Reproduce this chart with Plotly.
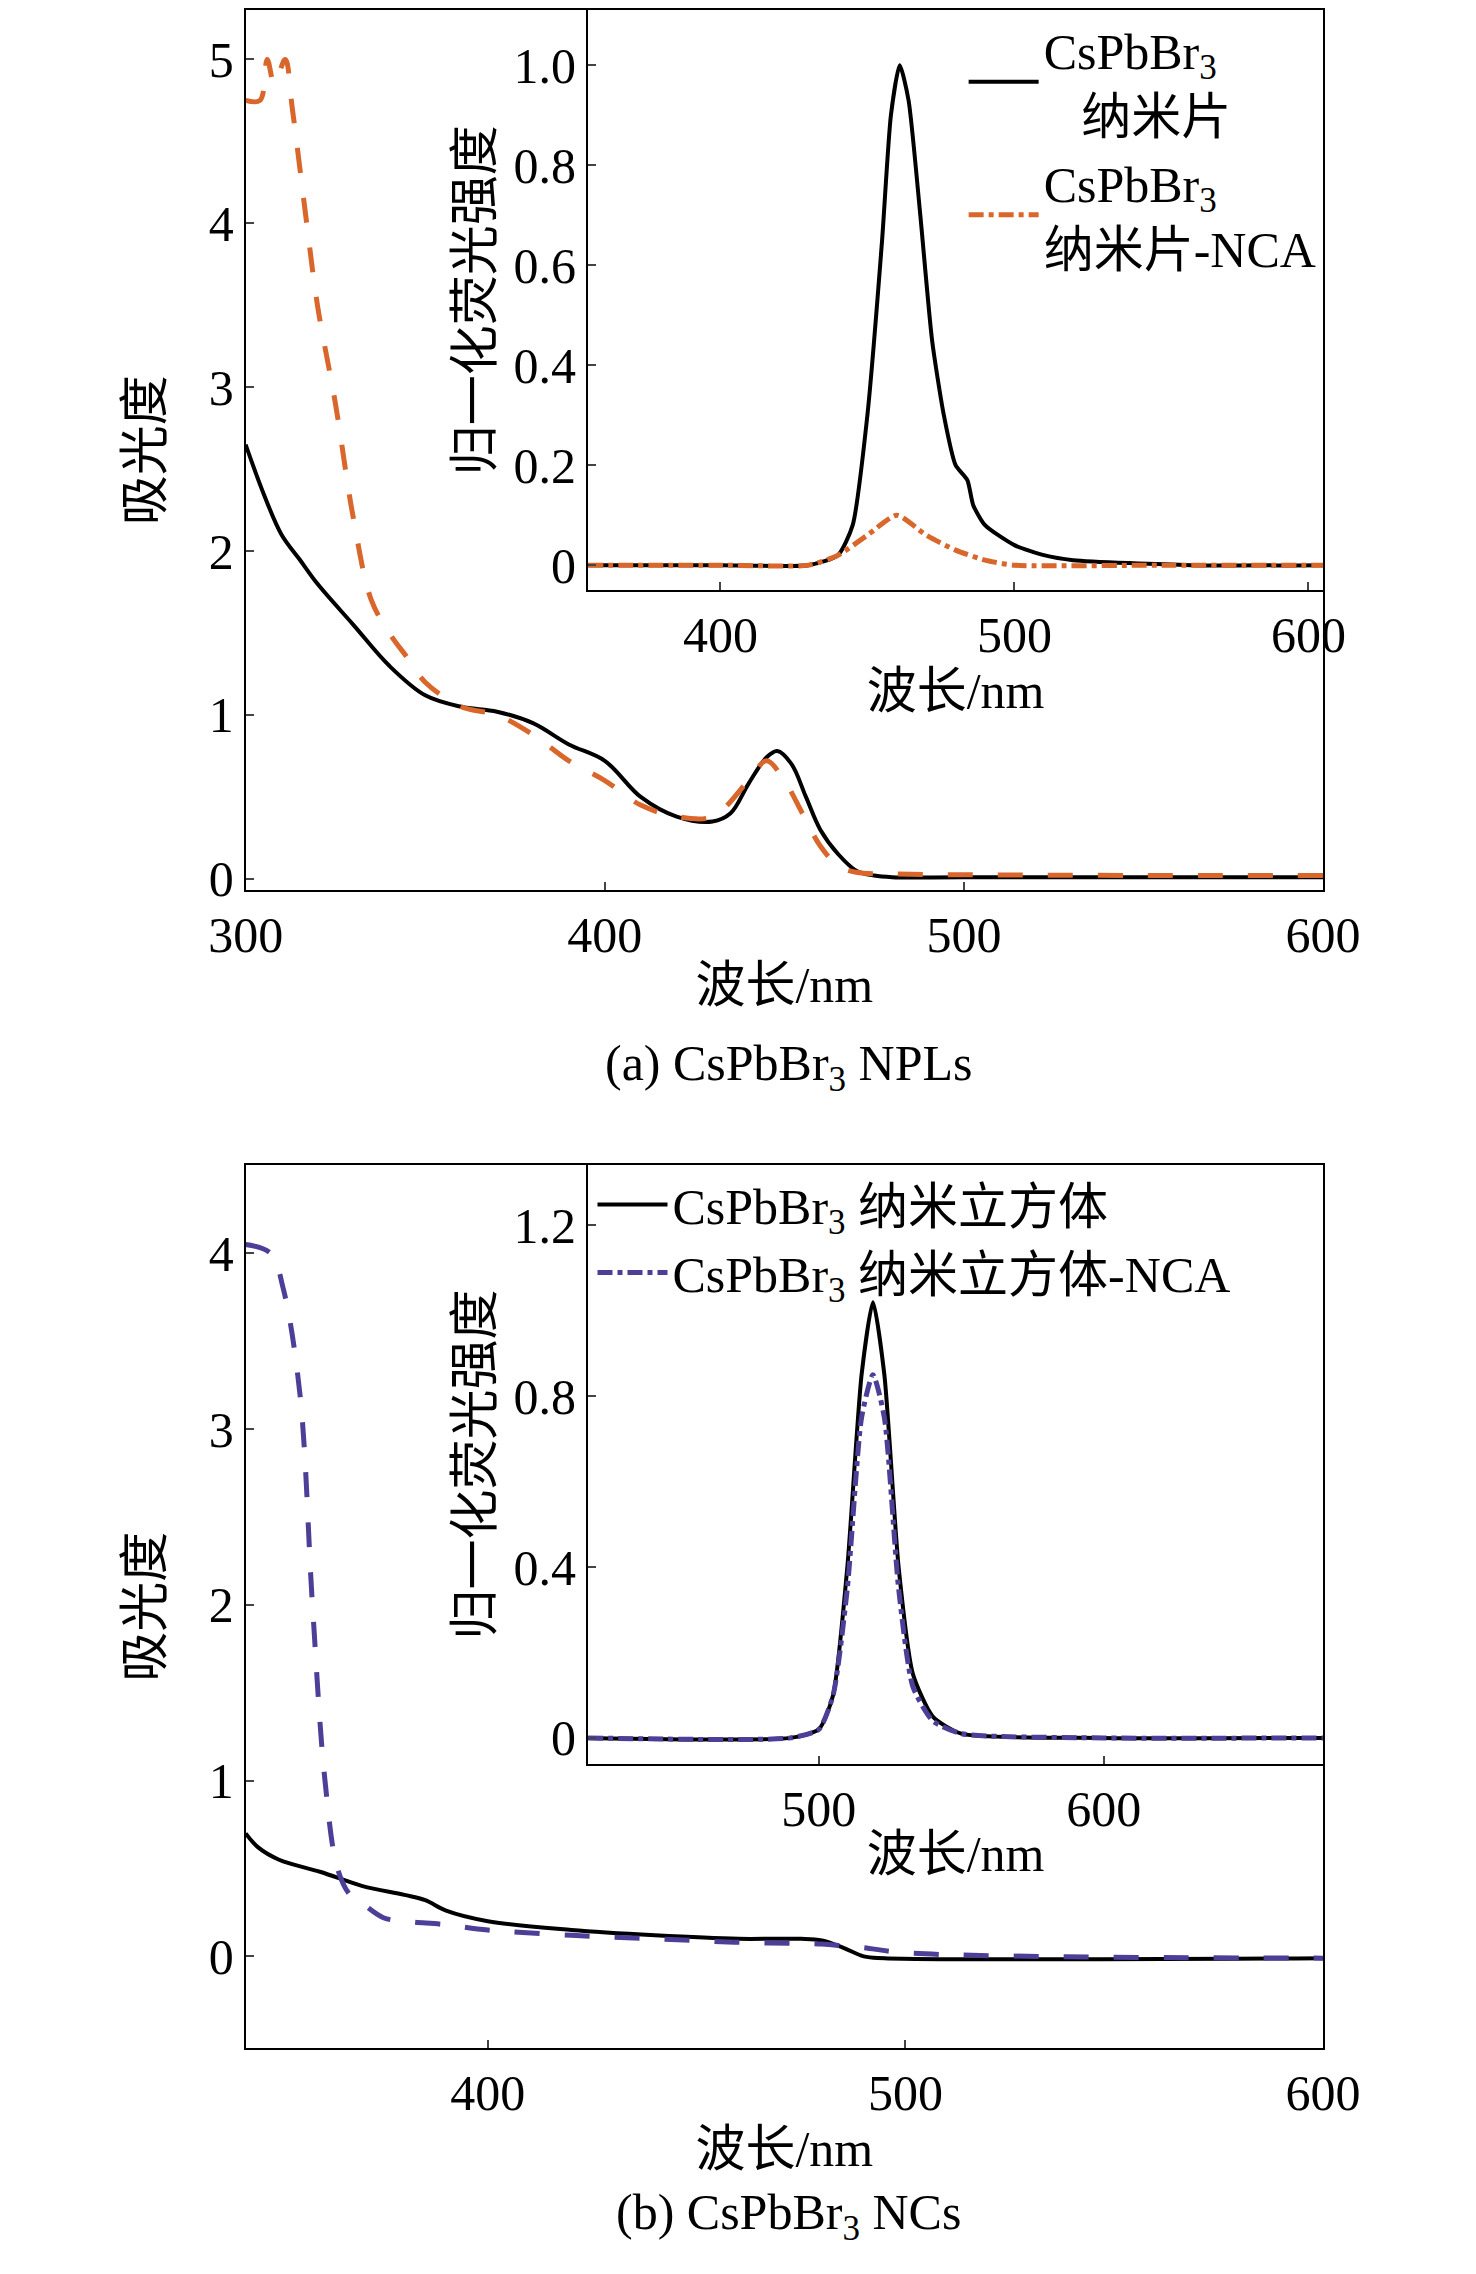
import plotly.graph_objs as go

# panel (a) absorption
a_x = [300, 305, 310, 315, 320, 330, 340, 350, 360, 370, 380, 390, 400, 410, 420, 430, 435, 440, 445, 448, 452, 456, 460, 465, 470, 475, 480, 500, 600]
a_black = [2.65, 2.35, 2.1, 1.95, 1.8, 1.55, 1.3, 1.12, 1.05, 1.02, 0.95, 0.82, 0.72, 0.5, 0.38, 0.35, 0.4, 0.58, 0.74, 0.78, 0.7, 0.5, 0.3, 0.15, 0.05, 0.02, 0.01, 0.01, 0.01]
a_ox = [300, 304, 306, 308, 311, 313, 317, 320, 325, 330, 335, 340, 345, 350, 360, 370, 380, 390, 400, 410, 420, 430, 440, 445, 450, 455, 460, 465, 470, 480, 600]
a_orange = [4.75, 4.75, 5.0, 4.85, 5.0, 4.7, 4.0, 3.5, 2.9, 2.2, 1.7, 1.5, 1.35, 1.2, 1.05, 1.0, 0.88, 0.72, 0.6, 0.45, 0.38, 0.38, 0.6, 0.72, 0.6, 0.4, 0.2, 0.08, 0.04, 0.03, 0.02]

# panel (a) inset PL
ai_x = [355, 400, 430, 440, 445, 450, 455, 458, 461, 464, 468, 472, 476, 480, 484, 486, 490, 500, 510, 520, 560, 605]
ai_black = [0, 0, 0, 0.02, 0.08, 0.3, 0.65, 0.9, 1.0, 0.93, 0.7, 0.45, 0.3, 0.2, 0.17, 0.12, 0.08, 0.04, 0.02, 0.01, 0, 0]
ai_ox = [355, 400, 430, 440, 450, 460, 470, 480, 490, 500, 550, 605]
ai_orange = [0, 0, 0, 0.02, 0.06, 0.1, 0.06, 0.03, 0.01, 0, 0, 0]

# panel (b) absorption
b_x = [342, 345, 350, 360, 370, 380, 385, 390, 400, 420, 440, 460, 475, 480, 485, 490, 495, 600]
b_black = [0.7, 0.62, 0.55, 0.48, 0.4, 0.35, 0.32, 0.26, 0.2, 0.15, 0.12, 0.1, 0.1, 0.09, 0.05, 0.0, -0.01, -0.01]
b_px = [342, 348, 351, 355, 358, 361, 364, 367, 370, 375, 380, 390, 400, 420, 440, 460, 480, 485, 490, 500, 600]
b_purple = [4.05, 4.0, 3.8, 3.2, 2.0, 1.0, 0.5, 0.35, 0.3, 0.22, 0.2, 0.18, 0.15, 0.12, 0.1, 0.08, 0.07, 0.06, 0.05, 0.02, -0.01]

# panel (b) inset PL
bi_x = [419, 490, 500, 505, 510, 515, 519, 523, 528, 533, 540, 550, 600, 677]
bi_black = [0, 0, 0.02, 0.1, 0.4, 0.85, 1.02, 0.85, 0.4, 0.15, 0.05, 0.01, 0, 0]
bi_purple = [0, 0, 0.02, 0.1, 0.35, 0.75, 0.85, 0.75, 0.35, 0.12, 0.04, 0.01, 0, 0]

ORANGE = "#d9662a"
PURPLE = "#4b3f98"
FONT = "Liberation Serif, Noto Sans CJK SC"
FS = 50

fig = go.Figure()
fig.add_trace(go.Scatter(x=a_x, y=a_black, mode="lines", line=dict(color="black", width=4, shape="spline"), showlegend=False))
fig.add_trace(go.Scatter(x=a_ox, y=a_orange, mode="lines", line=dict(color=ORANGE, width=5, dash="longdash", shape="spline"), showlegend=False))
fig.add_trace(go.Scatter(x=ai_x, y=ai_black, mode="lines", xaxis="x2", yaxis="y2",
                         line=dict(color="black", width=4, shape="spline", smoothing=0.6), name="CsPbBr<sub>3</sub><br>   纳米片", legend="legend"))
fig.add_trace(go.Scatter(x=ai_ox, y=ai_orange, mode="lines", xaxis="x2", yaxis="y2",
                         line=dict(color=ORANGE, width=5, dash="dashdot", shape="spline", smoothing=0.6), name="CsPbBr<sub>3</sub><br>纳米片-NCA", legend="legend"))
fig.add_trace(go.Scatter(x=b_x, y=b_black, mode="lines", xaxis="x3", yaxis="y3", line=dict(color="black", width=4, shape="spline"), showlegend=False))
fig.add_trace(go.Scatter(x=b_px, y=b_purple, mode="lines", xaxis="x3", yaxis="y3", line=dict(color=PURPLE, width=5, dash="longdash", shape="spline"), showlegend=False))
fig.add_trace(go.Scatter(x=bi_x, y=bi_black, mode="lines", xaxis="x4", yaxis="y4",
                         line=dict(color="black", width=4, shape="spline", smoothing=0.6), name="CsPbBr<sub>3</sub> 纳米立方体", legend="legend2"))
fig.add_trace(go.Scatter(x=bi_x, y=bi_purple, mode="lines", xaxis="x4", yaxis="y4",
                         line=dict(color=PURPLE, width=5, dash="dashdot", shape="spline", smoothing=0.6), name="CsPbBr<sub>3</sub> 纳米立方体-NCA", legend="legend2"))

ax = dict(showline=True, linecolor="black", linewidth=2, mirror=True, ticks="inside", ticklen=8,
          tickwidth=2, showgrid=False, zeroline=False, automargin=False, tickfont=dict(size=FS, family=FONT))
tit = dict(size=FS, family=FONT)

fig.update_layout(
    width=1476, height=2274, margin=dict(l=0, r=0, t=0, b=0),
    plot_bgcolor="white", paper_bgcolor="white", font=dict(family=FONT, color="black"),
    xaxis=dict(ax, domain=[0.161, 0.891], range=[300, 600], tickvals=[300, 400, 500, 600],
               title=dict(text="波长/nm", font=tit, standoff=5), anchor="y"),
    yaxis=dict(ax, domain=[0.612, 0.999], range=[-0.07, 5.3], tickvals=[0, 1, 2, 3, 4, 5],
               title=dict(text="吸光度", font=tit, standoff=30), anchor="x"),
    xaxis2=dict(ax, domain=[0.393, 0.891], range=[355, 605], tickvals=[400, 500, 600],
                title=dict(text="波长/nm", font=tit, standoff=0), anchor="y2"),
    yaxis2=dict(ax, domain=[0.744, 0.999], range=[-0.05, 1.11], tickvals=[0, 0.2, 0.4, 0.6, 0.8, 1.0],
                ticktext=["0", "0.2", "0.4", "0.6", "0.8", "1.0"],
                title=dict(text="归一化荧光强度", font=tit, standoff=5), anchor="x2"),
    xaxis3=dict(ax, domain=[0.161, 0.891], range=[342, 600], tickvals=[400, 500, 600],
                title=dict(text="波长/nm", font=tit, standoff=0), anchor="y3"),
    yaxis3=dict(ax, domain=[0.103, 0.491], range=[-0.52, 4.5], tickvals=[0, 1, 2, 3, 4],
                title=dict(text="吸光度", font=tit, standoff=30), anchor="x3"),
    xaxis4=dict(ax, domain=[0.393, 0.891], range=[419, 677], tickvals=[500, 600],
                title=dict(text="波长/nm", font=tit, standoff=0), anchor="y4"),
    yaxis4=dict(ax, domain=[0.228, 0.491], range=[-0.06, 1.34], tickvals=[0, 0.4, 0.8, 1.2],
                ticktext=["0", "0.4", "0.8", "1.2"],
                title=dict(text="归一化荧光强度", font=tit, standoff=5), anchor="x4"),
    legend=dict(x=0.89, y=0.999, xanchor="right", yanchor="top", bgcolor="rgba(0,0,0,0)",
                font=dict(size=FS, family=FONT), tracegroupgap=0, itemwidth=70),
    legend2=dict(x=0.396, y=0.491, xanchor="left", yanchor="top", bgcolor="rgba(0,0,0,0)",
                 font=dict(size=FS, family=FONT), itemwidth=70, tracegroupgap=0),
    annotations=[
        dict(text="(a) CsPbBr<sub>3</sub> NPLs", x=0.529, y=1 - 735 / 1578, xref="paper", yref="paper",
             xanchor="center", yanchor="middle", showarrow=False, font=dict(size=FS, family=FONT)),
        dict(text="(b) CsPbBr<sub>3</sub> NCs", x=0.529, y=1 - 1532 / 1578, xref="paper", yref="paper",
             xanchor="center", yanchor="middle", showarrow=False, font=dict(size=FS, family=FONT)),
    ],
)

fig.write_html("out.html")
